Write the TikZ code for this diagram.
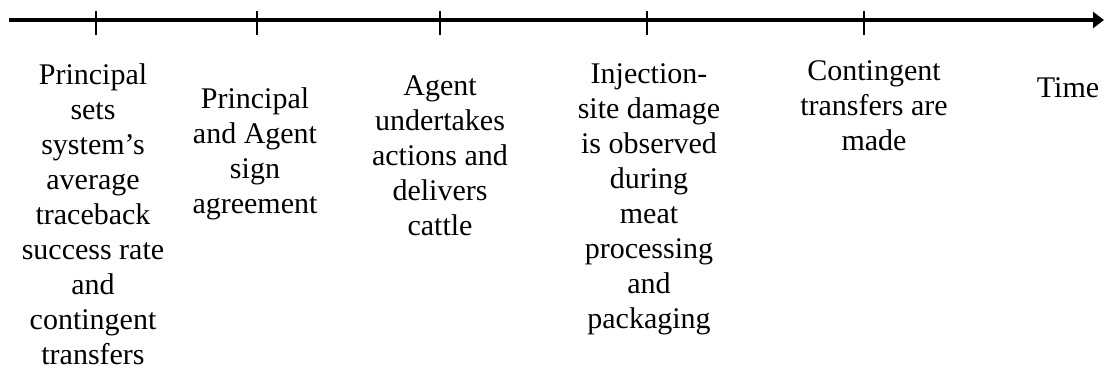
\documentclass[tikz,border=0pt]{standalone}
\usepackage{fontspec}
\setmainfont{Liberation Serif}
\usetikzlibrary{arrows.meta}
\begin{document}
\begin{tikzpicture}[x=1pt,y=1pt,
  axis/.style={line width=4.5pt,-{Triangle[length=11pt,width=16pt]}},
  tick/.style={line width=1.5pt},
  lbl/.style={anchor=north,inner sep=0pt,align=center,font=\fontsize{30}{35}\selectfont}]
\useasboundingbox (0,0) rectangle (1104,-369);
\coordinate (start) at (9,-20);
\coordinate (end) at (1104,-20);
\draw[axis] (start) -- (end);
\foreach \x/\n in {96/a,257/b,440/c,647/d,864/e}{
  \coordinate (\n top) at (\x,-11);
  \coordinate (\n bot) at (\x,-35);
  \draw[tick] (\n top) -- (\n bot);
}
\node[lbl] (l1) at (93,-63) {Principal\\sets\\system’s\\average\\traceback\\success rate\\and\\contingent\\transfers};
\node[lbl] (l2) at (255,-87) {Principal\\and Agent\\sign\\agreement};
\node[lbl] (l3) at (440,-75) {Agent\\undertakes\\actions and\\delivers\\cattle};
\node[lbl] (l4) at (649,-63) {Injection-\\site damage\\is observed\\during\\meat\\processing\\and\\packaging};
\node[lbl] (l5) at (874,-60) {Contingent\\transfers are\\made};
\node[lbl] (l6) at (1068,-77) {Time};
\end{tikzpicture}
\end{document}
